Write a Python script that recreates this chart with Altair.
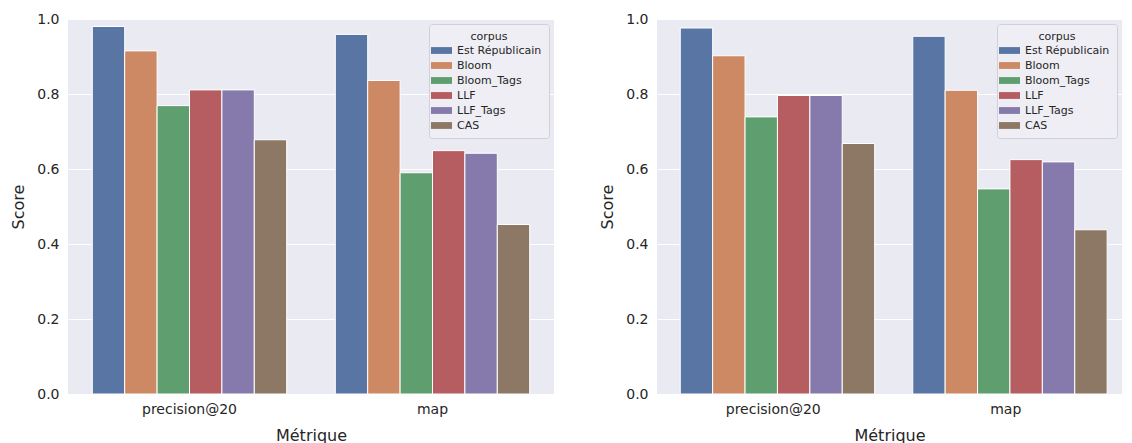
import altair as alt
import pandas as pd

metrics = ["precision@20", "map"]
corpora = ["Est Républicain", "Bloom", "Bloom_Tags", "LLF", "LLF_Tags", "CAS"]
colors = ["#5875A4", "#CC8963", "#5F9E6E", "#B55D60", "#857AAB", "#8D7866"]

# left panel scores per corpus: [precision@20, map]
left_scores = {
    "Est Républicain": [0.980, 0.959],
    "Bloom": [0.915, 0.836],
    "Bloom_Tags": [0.769, 0.590],
    "LLF": [0.811, 0.649],
    "LLF_Tags": [0.811, 0.642],
    "CAS": [0.678, 0.452],
}
# right panel scores per corpus: [precision@20, map]
right_scores = {
    "Est Républicain": [0.976, 0.954],
    "Bloom": [0.902, 0.810],
    "Bloom_Tags": [0.739, 0.547],
    "LLF": [0.796, 0.625],
    "LLF_Tags": [0.796, 0.619],
    "CAS": [0.668, 0.438],
}

FONT = "DejaVu Sans"
TXT = "#262626"


def make_df(scores):
    rows = []
    for c in corpora:
        for m, v in zip(metrics, scores[c]):
            rows.append({"Métrique": m, "corpus": c, "Score": v})
    return pd.DataFrame(rows)


def panel(scores, width):
    df = make_df(scores)
    return (
        alt.Chart(df)
        .mark_bar(stroke="white", strokeWidth=1)
        .encode(
            x=alt.X(
                "Métrique:N",
                sort=metrics,
                scale=alt.Scale(paddingInner=0.2, paddingOuter=0.1),
                axis=alt.Axis(
                    labelAngle=0,
                    labelFontSize=14,
                    labelPadding=8,
                    titleFontSize=16,
                    titlePadding=11,
                    titleFontWeight="normal",
                    ticks=False,
                    domain=False,
                    grid=False,
                ),
            ),
            xOffset=alt.XOffset("corpus:N", sort=corpora, scale=alt.Scale(paddingInner=0, paddingOuter=0)),
            y=alt.Y(
                "Score:Q",
                scale=alt.Scale(domain=[0, 1], nice=False),
                axis=alt.Axis(
                    values=[0, 0.2, 0.4, 0.6, 0.8, 1.0],
                    format=".1f",
                    labelFontSize=14,
                    labelPadding=9,
                    titleFontSize=16,
                    titlePadding=10,
                    titleFontWeight="normal",
                    ticks=False,
                    domain=False,
                    gridColor="white",
                    gridWidth=1,
                ),
            ),
            color=alt.Color(
                "corpus:N",
                sort=corpora,
                scale=alt.Scale(domain=corpora, range=colors),
                legend=alt.Legend(
                    orient="top-right",
                    offset=5,
                    title="corpus",
                    titleFontSize=11,
                    titleFontWeight="normal",
                    titleAnchor="middle",
                    titleAlign="center",
                    titleColor=TXT,
                    titlePadding=3,
                    labelFontSize=11,
                    labelColor=TXT,
                    labelOffset=10,
                    rowPadding=3,
                    symbolType="M-2,-0.65H2V0.65H-2Z",
                    symbolSize=110,
                    symbolStrokeWidth=0,
                    fillColor="#EEEEF4",
                    strokeColor="#D0D0D8",
                    cornerRadius=3,
                    padding=7,
                ),
            ),
        )
        .properties(width=width, height=375)
    )


chart = (
    alt.hconcat(panel(left_scores, 486), panel(right_scores, 465), spacing=45)
    .resolve_legend(color="independent")
    .resolve_scale(color="independent")
    .configure(font=FONT, padding={"left": 2, "top": 4, "right": 0, "bottom": 0})
    .configure_view(fill="#EAEAF2", stroke=None)
    .configure_axis(labelColor=TXT, titleColor=TXT, labelFont=FONT, titleFont=FONT)
    .configure_legend(labelFont=FONT, titleFont=FONT)
)

chart.save("out.html", embed_options={"renderer": "svg", "actions": False})
